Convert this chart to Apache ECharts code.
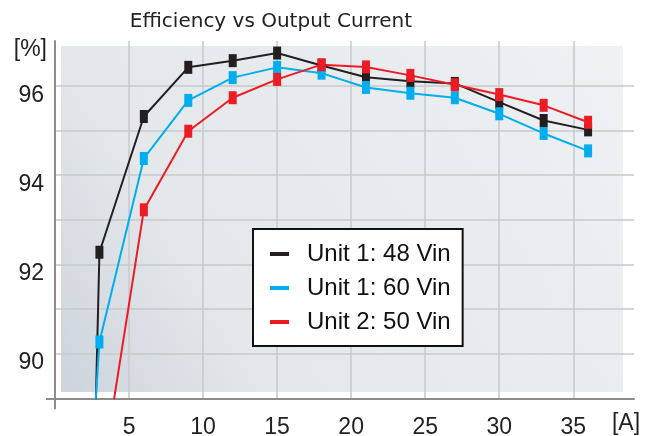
<!DOCTYPE html>
<html>
<head>
<meta charset="utf-8">
<script src="https://cdn.jsdelivr.net/npm/echarts@6/dist/echarts.min.js"></script>
<style>
html,body{margin:0;padding:0;background:#fff;}
#c{width:651px;height:436px;}
</style>
</head>
<body>
<div id="c"></div>
<script>
// ---- data ----
var titleText = 'Efficiency vs Output Current';
var seriesNames = ['Unit 1: 48 Vin', 'Unit 1: 60 Vin', 'Unit 2: 50 Vin'];
var xTickLabels = [5, 10, 15, 20, 25, 30, 35];
var yTickLabels = [90, 92, 94, 96];

var unit1_48_x = [2.7, 3, 6, 9, 12, 15, 18, 21, 24, 27, 30, 33, 36];
var unit1_48_y = [88.1, 92.27, 95.31, 96.41, 96.56, 96.73, 96.45, 96.19, 96.10, 96.05, 95.63, 95.22, 95.01];

var unit1_60_x = [2.7, 3, 6, 9, 12, 15, 18, 21, 24, 27, 30, 33, 36];
var unit1_60_y = [88.7, 90.26, 94.37, 95.67, 96.18, 96.41, 96.28, 95.96, 95.83, 95.73, 95.37, 94.93, 94.54];

var unit2_50_x = [3, 6, 9, 12, 15, 18, 21, 24, 27, 30, 33, 36];
var unit2_50_y = [86.9, 93.22, 94.98, 95.73, 96.14, 96.47, 96.42, 96.23, 96.02, 95.80, 95.56, 95.18];

function pairs(xs, ys) { return xs.map(function (x, i) { return [x, ys[i]]; }); }

var colors = ['#231f20', '#00aeef', '#ed1c24'];
var narrow = '"Liberation Sans Narrow", "Liberation Sans", Arial, sans-serif';
var regular = '"Liberation Sans", Arial, sans-serif';
var axisGray = '#8c8c8c';
var gridGray = '#c8c8c8';
var X_MIN = 0, X_MAX = 39.1, Y_MIN = 89, Y_MAX = 97;

var chart = echarts.init(document.getElementById('c'), null, {renderer: 'canvas'});

function mkSeries(name, xs, ys, color) {
  return {
    name: name,
    type: 'line',
    data: pairs(xs, ys),
    clip: true,
    symbol: 'rect',
    symbolSize: [8, 13],
    showAllSymbol: true,
    color: color,
    itemStyle: {color: color},
    lineStyle: {color: color, width: 2},
    emphasis: {disabled: true},
    animation: false
  };
}

chart.setOption({
  animation: false,
  title: {
    text: titleText,
    left: 266,
    textAlign: 'center',
    top: 7,
    textStyle: {fontFamily: '"DejaVu Sans", sans-serif', fontSize: 20, fontWeight: 'normal', color: '#222'}
  },
  graphic: [{
    type: 'rect',
    left: 61, top: 46,
    shape: {width: 562, height: 346},
    z: -10,
    silent: true,
    style: {
      fill: new echarts.graphic.LinearGradient(0, 1, 1, 0, [
        {offset: 0, color: '#ccd4dc'},
        {offset: 0.28, color: '#e4e8eb'},
        {offset: 0.65, color: '#e9ecef'},
        {offset: 1, color: '#eff1f3'}
      ])
    }
  }],
  grid: {left: 55, right: 17, top: 41, bottom: 37.7, containLabel: false, outerBoundsMode: 'none'},
  legend: {
    orient: 'vertical',
    left: 253, top: 229,
    padding: [13, 12, 12, 17],
    itemGap: 10,
    itemWidth: 19,
    itemHeight: 4,
    icon: 'rect',
    backgroundColor: '#ffffff',
    borderColor: '#111111',
    borderWidth: 2,
    borderRadius: 0,
    textStyle: {fontFamily: regular, fontSize: 24, lineHeight: 24, color: '#111', padding: [0, 0, 0, 13]},
    data: seriesNames,
    selectedMode: false
  },
  xAxis: [{
    type: 'value',
    min: X_MIN, max: X_MAX, interval: 5,
    position: 'bottom',
    name: '[A]',
    nameLocation: 'end',
    nameGap: -8,
    nameTextStyle: {fontFamily: narrow, fontSize: 23, color: '#222', align: 'center', verticalAlign: 'top', lineHeight: 50},
    axisLine: {show: true, onZero: false, lineStyle: {color: axisGray, width: 2}},
    axisTick: {show: false},
    axisLabel: {customValues: xTickLabels, margin: 18, fontFamily: narrow, fontSize: 23, color: '#222'},
    splitLine: {show: true, showMinLine: false, showMaxLine: false, lineStyle: {color: gridGray, width: 1.5}}
  }, {
    type: 'value',
    min: X_MIN, max: X_MAX,
    position: 'bottom',
    axisLine: {show: false, onZero: false},
    axisTick: {show: true, customValues: [X_MIN], length: 11, inside: false, lineStyle: {color: axisGray, width: 2}},
    axisLabel: {show: false},
    splitLine: {show: false}
  }],
  yAxis: [{
    type: 'value',
    min: Y_MIN, max: Y_MAX, interval: 1,
    position: 'left',
    name: '[%]',
    nameLocation: 'end',
    nameGap: 0,
    nameTextStyle: {fontFamily: narrow, fontSize: 23, color: '#222', align: 'right', verticalAlign: 'top', lineHeight: 18, padding: [0, 8, 0, 0]},
    axisLine: {show: true, onZero: false, lineStyle: {color: axisGray, width: 2}},
    axisTick: {show: false},
    axisLabel: {customValues: yTickLabels, margin: 11, verticalAlign: 'top', lineHeight: 19, fontFamily: narrow, fontSize: 23, color: '#222'},
    splitLine: {show: true, showMinLine: false, showMaxLine: false, lineStyle: {color: gridGray, width: 1.5}}
  }, {
    type: 'value',
    min: Y_MIN, max: Y_MAX,
    position: 'left',
    axisLine: {show: false, onZero: false},
    axisTick: {show: true, customValues: [Y_MIN], length: 9, inside: false, lineStyle: {color: axisGray, width: 2}},
    axisLabel: {show: false},
    splitLine: {show: false}
  }],
  series: [
    mkSeries(seriesNames[0], unit1_48_x, unit1_48_y, colors[0]),
    mkSeries(seriesNames[1], unit1_60_x, unit1_60_y, colors[1]),
    mkSeries(seriesNames[2], unit2_50_x, unit2_50_y, colors[2])
  ]
});
</script>
</body>
</html>
